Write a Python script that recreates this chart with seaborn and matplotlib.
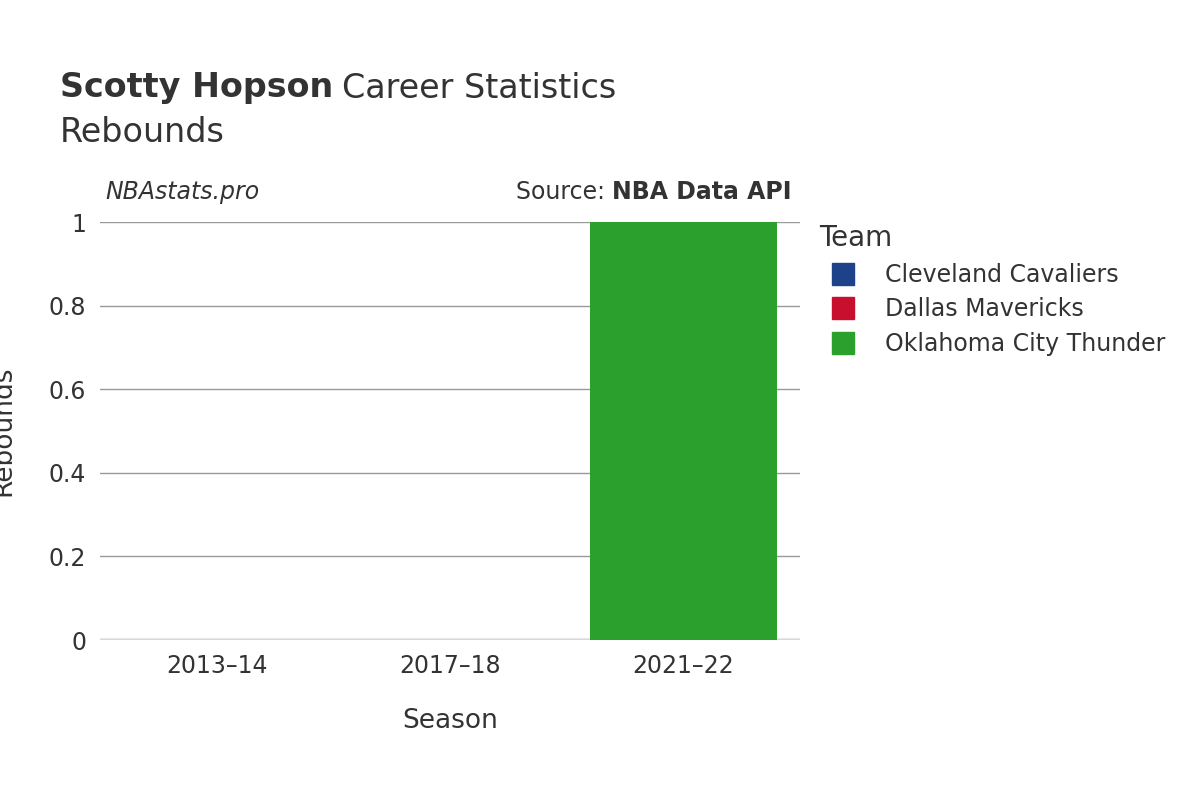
import matplotlib
matplotlib.use("Agg")
import matplotlib.pyplot as plt
import seaborn as sns
import pandas as pd
from matplotlib.lines import Line2D

seasons = ["2013–14", "2017–18", "2021–22"]
teams = ["Cleveland Cavaliers", "Dallas Mavericks", "Oklahoma City Thunder"]
rebounds = [0, 0, 1]
colors = {"Cleveland Cavaliers": "#1d428a", "Dallas Mavericks": "#c8102e", "Oklahoma City Thunder": "#2ca02c"}

df = pd.DataFrame({"Season": seasons, "Team": teams, "Rebounds": rebounds})

plt.rcParams["font.family"] = "DejaVu Sans"
fig = plt.figure(figsize=(12, 8), dpi=100)
ax = fig.add_axes([100/1200, 160/800, 700/1200, 418/800])
sns.barplot(data=df, x="Season", y="Rebounds", hue="Team", palette=colors, saturation=1,
            dodge=False, width=0.8, ax=ax, legend=False, order=seasons)
ax.set_ylim(0, 1)
ax.set_yticks([0, 0.2, 0.4, 0.6, 0.8, 1])
ax.set_yticklabels(["0", "0.2", "0.4", "0.6", "0.8", "1"])
ax.grid(axis="y", color="#999999", linewidth=1)
ax.set_axisbelow(True)
for s in ax.spines.values():
    s.set_visible(False)
ax.axhline(0, color="#e8e8e8", linewidth=3, zorder=0.5)
ax.tick_params(length=0, labelsize=17, colors="#333333", pad=10)
ax.set_xlabel("Season", fontsize=19, color="#333333", labelpad=22)
ax.set_ylabel("Rebounds", fontsize=19, color="#333333")
ax.yaxis.set_label_coords(-0.119, 0.5)

fig.text(60/1200, 1-88/800, "Scotty Hopson", fontsize=24, fontweight="bold", color="#333333", va="center")
fig.text(342/1200, 1-88/800, "Career Statistics", fontsize=24, color="#333333", va="center")
fig.text(60/1200, 1-132/800, "Rebounds", fontsize=24, color="#333333", va="center")
fig.text(105/1200, 1-192/800, "NBAstats.pro", fontsize=17, style="italic", color="#333333", va="center")
fig.text(612/1200, 1-192/800, "Source: ", fontsize=17, color="#333333", va="center", ha="right")
fig.text(612/1200, 1-192/800, "NBA Data API", fontsize=17, fontweight="bold", color="#333333", va="center")

handles = [Line2D([0], [0], marker="s", linestyle="", markersize=16, markerfacecolor=colors[t],
                  markeredgecolor=colors[t]) for t in teams]
leg = fig.legend(handles, teams, loc="upper left", bbox_to_anchor=(798/1200, 1-203/800),
                 frameon=False, fontsize=17, title="Team", title_fontsize=20,
                 labelcolor="#333333", handletextpad=0.8, labelspacing=0.45)
leg._legend_box.align = "left"
leg.get_title().set_color("#333333")

fig.savefig("out.png", dpi=100)
